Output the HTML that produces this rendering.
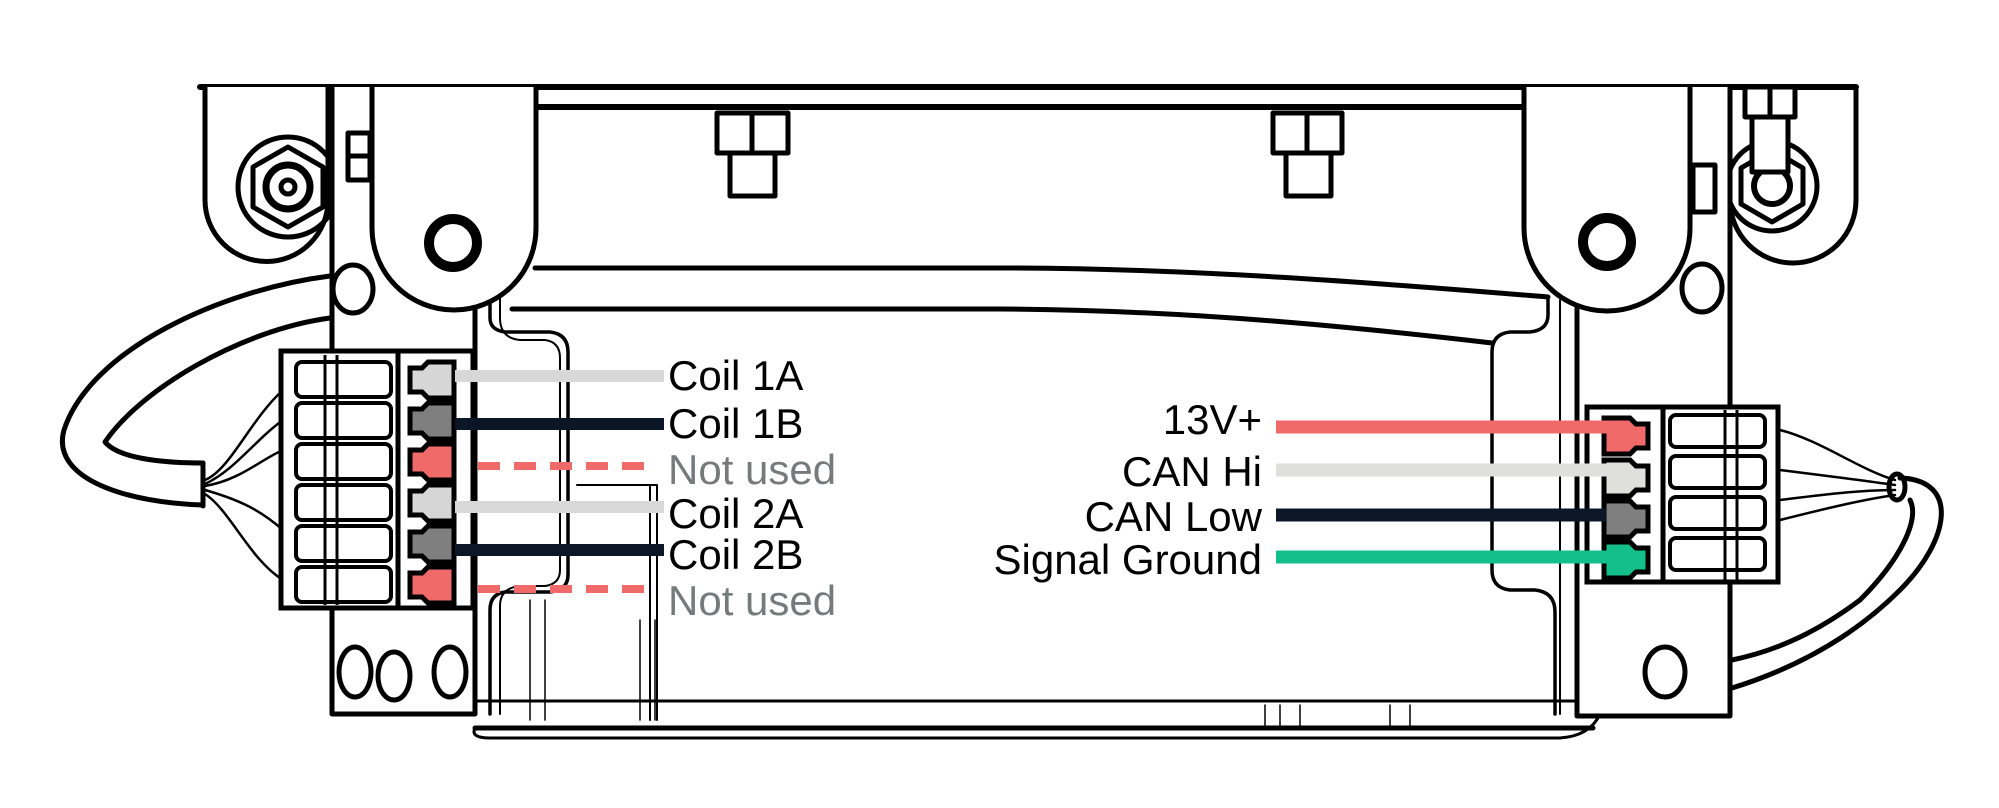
<!DOCTYPE html>
<html><head><meta charset="utf-8"><style>
html,body{margin:0;padding:0;background:#fff;width:1999px;height:808px;overflow:hidden}
svg{display:block}
text{font-family:"Liberation Sans",sans-serif;font-size:42px;}
</style></head><body>
<svg width="1999" height="808" viewBox="0 0 1999 808" xmlns="http://www.w3.org/2000/svg">
<g fill="none" stroke="#000" stroke-width="5" stroke-linejoin="round" stroke-linecap="round">
<!-- top rails -->
<line x1="200" y1="87" x2="1856" y2="87" stroke-width="6"/>
<line x1="537" y1="107" x2="1524" y2="107" stroke-width="6"/>
<!-- body top curves -->
<path d="M535 268 L1000 268 C1200 268 1400 285 1548 297"/>
<path d="M512 309 L1000 309 C1200 310 1380 330 1492 343"/>
<!-- body bottom -->
<path d="M475 728 L1593 728"/>
<path d="M475 701 L1593 701" stroke-width="3"/>
<path d="M475 728 Q470 738 490 738 L1560 738 Q1590 736 1600 714" stroke-width="3"/>
<!-- left inner body outline -->
<path d="M490 290 L490 318 Q490 330 505 332 L550 332 Q568 334 568 352 L568 575 Q568 590 550 592 L505 592 Q490 594 490 610 L490 714" stroke-width="3.5"/>
<path d="M500 290 L500 318 Q500 338 520 340 L545 340 Q560 342 560 358 L560 570 Q560 584 545 586 L520 586 Q500 588 500 606 L500 714" stroke-width="2"/>
<path d="M530 600 L530 720 M545 600 L545 720 M640 620 L640 720 M655 620 L655 720" stroke-width="1.5"/>
<path d="M577 485 L657 485 L657 720 M650 485 L650 720" stroke-width="2"/>
<!-- right inner body outline -->
<path d="M1548 297 L1548 315 Q1548 330 1530 332 L1510 332 Q1492 334 1492 352 L1492 570 Q1492 588 1510 590 L1535 590 Q1555 592 1555 612 L1555 714" stroke-width="3.5"/>
<path d="M1560 300 L1560 615 L1560 714" stroke-width="2"/>
<path d="M1265 705 L1265 728 M1280 705 L1280 728 M1300 705 L1300 728 M1390 705 L1390 728 M1410 705 L1410 728" stroke-width="1.5"/>

<!-- left bracket -->
<path d="M205 87 L205 200 A61 61 0 0 0 328 200 L328 87" fill="#fff"/>
<circle cx="288" cy="187" r="50"/>
<polygon points="288,147 323,167 323,207 288,227 253,207 253,167"/>
<circle cx="288" cy="187" r="22" stroke-width="7"/>
<circle cx="288" cy="187" r="7"/>
<!-- left plate -->
<path d="M332 87 L332 714 L475 714 L475 87" fill="#fff"/>
<rect x="348" y="133" width="22" height="47"/>
<line x1="348" y1="156" x2="370" y2="156"/>
<ellipse cx="353" cy="289" rx="20" ry="24"/>
<ellipse cx="355" cy="672" rx="16" ry="25"/>
<ellipse cx="394" cy="676" rx="16" ry="24"/>
<ellipse cx="450" cy="672" rx="16" ry="25"/>
<!-- left lug -->
<path d="M372 87 L372 228 A82 82 0 0 0 536 228 L536 87" fill="#fff"/>
<circle cx="453" cy="243" r="24" stroke-width="10"/>
<!-- nuts -->
<g>
<rect x="717" y="113" width="71" height="40"/><line x1="752" y1="113" x2="752" y2="153"/>
<rect x="730" y="153" width="45" height="43"/>
<rect x="1273" y="113" width="69" height="40"/><line x1="1307" y1="113" x2="1307" y2="153"/>
<rect x="1286" y="153" width="45" height="43"/>
</g>
<!-- right bracket -->
<path d="M1730 87 L1730 200 A63 63 0 0 0 1856 200 L1856 87"/>
<circle cx="1772" cy="186" r="45"/>
<polygon points="1772,150 1803,168 1803,204 1772,222 1741,204 1741,168"/>
<circle cx="1772" cy="186" r="18" stroke-width="6"/>
<rect x="1745" y="87" width="50" height="30" fill="#fff"/>
<line x1="1770" y1="87" x2="1770" y2="117"/>
<rect x="1752" y="117" width="36" height="55" fill="#fff"/>
<!-- right plate -->
<path d="M1577 87 L1577 716 L1730 716 L1730 87" fill="#fff"/>
<rect x="1693" y="165" width="22" height="47"/>
<ellipse cx="1702" cy="288" rx="20" ry="24"/>
<ellipse cx="1665" cy="672" rx="20" ry="25"/>
<!-- right lug -->
<path d="M1524 87 L1524 228 A83 83 0 0 0 1690 228 L1690 87" fill="#fff"/>
<circle cx="1607" cy="242" r="24" stroke-width="10"/>

<!-- left cable -->
<path d="M330 276 C220 290 90 350 64 430 C50 480 130 503 203 505" fill="#fff"/>
<path d="M330 318 C240 330 140 390 105 442 C120 460 170 463 203 463"/>
<line x1="203" y1="463" x2="203" y2="506"/>
<path d="M205 480 C230 470 250 420 283 390 M205 484 C235 470 255 440 283 420 M205 486 C240 480 260 460 283 450 M205 490 C240 500 260 510 283 530 M205 494 C230 510 250 560 283 580" stroke-width="2.5"/>

<!-- right cable -->
<path d="M1900 478 C1960 480 1950 540 1900 590 C1850 640 1790 670 1732 688"/>
<path d="M1910 500 C1920 520 1900 560 1860 600 C1820 630 1780 650 1732 660"/>
<ellipse cx="1897" cy="487" rx="8" ry="13" stroke-width="5"/>
<path d="M1780 430 C1820 440 1860 470 1895 480 M1780 470 C1820 475 1860 480 1895 485 M1780 500 C1820 495 1860 490 1895 490 M1780 520 C1820 510 1860 500 1895 495" stroke-width="2.5"/>
</g>

<!-- left connector -->
<g stroke="#000" stroke-width="5" fill="#fff">
<rect x="281" y="351" width="192" height="257"/>
<line x1="398" y1="351" x2="398" y2="608"/>
</g>
<g stroke="#000" stroke-width="4" fill="#fff">
<rect x="296" y="362" width="95" height="35" rx="6"/><rect x="296" y="403" width="95" height="35" rx="6"/>
<rect x="296" y="444" width="95" height="35" rx="6"/><rect x="296" y="485" width="95" height="35" rx="6"/>
<rect x="296" y="526" width="95" height="35" rx="6"/><rect x="296" y="567" width="95" height="35" rx="6"/>
</g>
<g stroke="#000" stroke-width="3" fill="none">
<path d="M325 355 L325 605 M337 355 L337 605"/>
</g>
<g stroke="#000" stroke-width="5">
<path d="M410 368 h12 l6 -6 h26 v36 h-26 l-6 -6 h-12z" fill="#d6d6d6"/>
<path d="M410 409 h12 l6 -6 h26 v36 h-26 l-6 -6 h-12z" fill="#7f7f7f"/>
<path d="M410 450 h12 l6 -6 h26 v36 h-26 l-6 -6 h-12z" fill="#f06a6a"/>
<path d="M410 491 h12 l6 -6 h26 v36 h-26 l-6 -6 h-12z" fill="#d6d6d6"/>
<path d="M410 532 h12 l6 -6 h26 v36 h-26 l-6 -6 h-12z" fill="#7f7f7f"/>
<path d="M410 573 h12 l6 -6 h26 v36 h-26 l-6 -6 h-12z" fill="#f06a6a"/>
</g>
<!-- left wires -->
<g stroke-width="12" fill="none">
<line x1="455" y1="376" x2="664" y2="376" stroke="#d8d8d8"/>
<line x1="455" y1="424" x2="664" y2="424" stroke="#0b1726"/>
<line x1="478" y1="466" x2="657" y2="466" stroke="#f06a6a" stroke-width="8" stroke-dasharray="22 14"/>
<line x1="455" y1="507" x2="664" y2="507" stroke="#d8d8d8"/>
<line x1="455" y1="550" x2="664" y2="550" stroke="#0b1726"/>
<line x1="478" y1="589" x2="657" y2="589" stroke="#f06a6a" stroke-width="8" stroke-dasharray="22 14"/>
</g>
<g>
<text x="668" y="390" fill="#000">Coil 1A</text>
<text x="668" y="438" fill="#000">Coil 1B</text>
<text x="668" y="484" fill="#757b7b">Not used</text>
<text x="668" y="528" fill="#000">Coil 2A</text>
<text x="668" y="569" fill="#000">Coil 2B</text>
<text x="668" y="615" fill="#757b7b">Not used</text>
</g>

<!-- right connector -->
<g stroke="#000" stroke-width="5" fill="#fff">
<rect x="1587" y="407" width="191" height="175"/>
<line x1="1663" y1="407" x2="1663" y2="582"/>
</g>
<g stroke="#000" stroke-width="4" fill="#fff">
<rect x="1670" y="415" width="95" height="32" rx="6"/><rect x="1670" y="456" width="95" height="32" rx="6"/>
<rect x="1670" y="497" width="95" height="32" rx="6"/><rect x="1670" y="538" width="95" height="32" rx="6"/>
</g>
<g stroke="#000" stroke-width="3" fill="none"><path d="M1725 410 L1725 580 M1737 410 L1737 580"/></g>
<g stroke="#000" stroke-width="5">
<path d="M1648 424 h-12 l-6 -6 h-26 v36 h26 l6 -6 h12z" fill="#f06a6a"/>
<path d="M1648 466 h-12 l-6 -6 h-26 v36 h26 l6 -6 h12z" fill="#dfe0dc"/>
<path d="M1648 507 h-12 l-6 -6 h-26 v36 h26 l6 -6 h12z" fill="#7f7f7f"/>
<path d="M1648 548 h-12 l-6 -6 h-26 v36 h26 l6 -6 h12z" fill="#13bf8a"/>
</g>
<g stroke-width="13" fill="none">
<polyline points="1276,427 1618,427 1618,440" stroke="#f06a6a"/>
<line x1="1276" y1="470" x2="1620" y2="470" stroke="#dfe0dc"/>
<line x1="1276" y1="515" x2="1606" y2="515" stroke="#0b1726"/>
<polyline points="1276,557 1618,557 1618,568" stroke="#13bf8a"/>
</g>
<g text-anchor="end" fill="#000">
<text x="1262" y="434">13V+</text>
<text x="1262" y="486">CAN Hi</text>
<text x="1262" y="531">CAN Low</text>
<text x="1262" y="574">Signal Ground</text>
</g>
</svg>
</body></html>
